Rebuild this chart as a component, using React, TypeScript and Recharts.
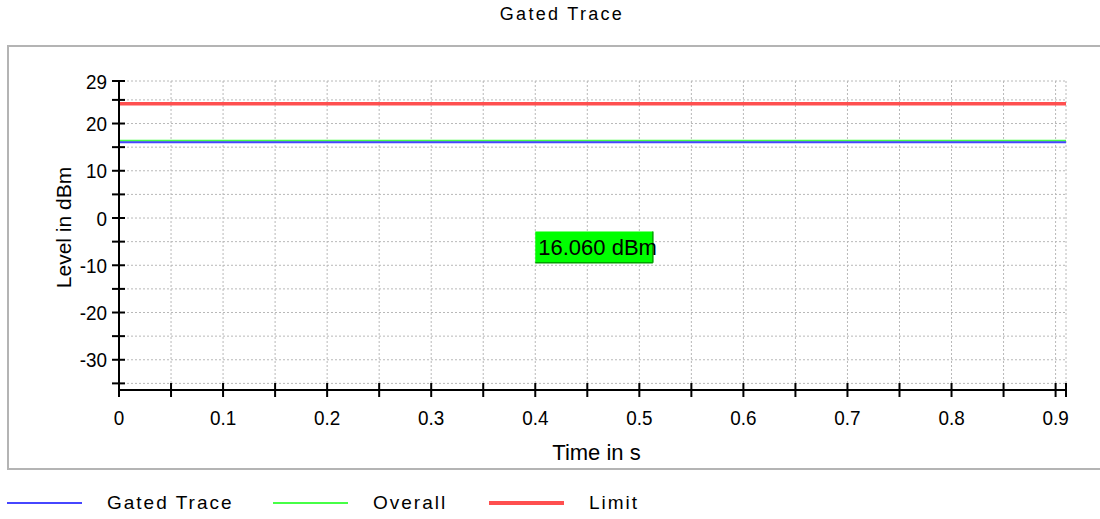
import { LineChart, Line, XAxis, YAxis, CartesianGrid, ReferenceArea } from 'recharts';

// time axis (s) and trace levels (dBm)
const times = [0, 0.91];
const gatedTrace = [16.06, 16.06];
const overall = [16.35, 16.35];
const limit = [24.2, 24.2];

const xTicks = [0, 0.05, 0.1, 0.15, 0.2, 0.25, 0.3, 0.35, 0.4, 0.45, 0.5, 0.55, 0.6, 0.65, 0.7, 0.75, 0.8, 0.85, 0.9, 0.91];
const xLabelTicks = [0, 0.1, 0.2, 0.3, 0.4, 0.5, 0.6, 0.7, 0.8, 0.9];
const yTicks = [29, 25, 20, 15, 10, 5, 0, -5, -10, -15, -20, -25, -30, -35];
const yLabelTicks = [29, 20, 10, 0, -10, -20, -30];

// marker readout box
const markerText = '16.060 dBm';
const markerTime = [0.4, 0.513];
const markerLevel = [-9.45, -2.85];

const FONT = '"Liberation Sans", Arial, sans-serif';
const BLUE = '#4646ff';
const GREEN = '#46ff46';
const RED = '#ff4f4f';

const data = times.map((t, i) => ({
  time: t,
  gated: gatedTrace[i],
  overall: overall[i],
  limit: limit[i],
}));

// tick labels in the original are tall and narrow
function TickText({ x, y, anchor, children }: any) {
  return (
    <text
      transform={`translate(${x}, ${y}) scale(0.9, 1)`}
      textAnchor={anchor}
      fontSize={21}
      fontFamily={FONT}
      fill="#000"
    >
      {children}
    </text>
  );
}

function XTick({ x, y, payload }: any) {
  const v = payload.value;
  return (
    <g>
      <line x1={x} x2={x} y1={y - 7} y2={y + 7} stroke="#000" strokeWidth={2} />
      {xLabelTicks.includes(v) && (
        <TickText x={x} y={y + 35} anchor="middle">
          {String(v)}
        </TickText>
      )}
    </g>
  );
}

function YTick({ x, y, payload }: any) {
  const v = payload.value;
  return (
    <g>
      <line x1={x - 7} x2={x + 6} y1={y} y2={y} stroke="#000" strokeWidth={2} />
      {yLabelTicks.includes(v) && (
        <TickText x={x - 12} y={y + 7.5} anchor="end">
          {String(v)}
        </TickText>
      )}
    </g>
  );
}

function MarkerBox({ x, y, width, height }: any) {
  return (
    <g>
      <rect x={x} y={y} width={width} height={height} fill="#00ff00" />
      <line x1={x + width} x2={x + width} y1={y} y2={y + height} stroke="#00a000" strokeWidth={1.5} />
      <line x1={x} x2={x + width} y1={y + height} y2={y + height} stroke="#00a000" strokeWidth={1.5} />
      <text x={x + 3} y={y + height / 2 + 8} fontSize={22} fontFamily={FONT} fill="#000">
        {markerText}
      </text>
    </g>
  );
}

const legendItems = [
  { name: 'Gated Trace', color: BLUE, width: 2, left: 7 },
  { name: 'Overall', color: GREEN, width: 2, left: 273 },
  { name: 'Limit', color: RED, width: 4, left: 489 },
];

export default function App() {
  return (
    <div
      style={{
        position: 'absolute',
        left: 0,
        top: 0,
        width: 1100,
        height: 519,
        overflow: 'hidden',
        background: '#fff',
        fontFamily: FONT,
      }}
    >
      <div
        style={{
          position: 'absolute',
          left: 0,
          top: 4,
          width: 1124,
          textAlign: 'center',
          fontSize: 18,
          lineHeight: '20px',
          letterSpacing: 2.3,
          color: '#000',
        }}
      >
        Gated Trace
      </div>
      <div
        style={{
          position: 'absolute',
          left: 7,
          top: 45,
          width: 1093,
          height: 421,
          borderTop: '2px solid #b4b4b4',
          borderLeft: '2px solid #b4b4b4',
          borderBottom: '2px solid #b4b4b4',
        }}
      />
      <div style={{ position: 'absolute', left: 0, top: 0 }}>
        <LineChart width={1100} height={519} data={data} margin={{ top: 81, right: 34, bottom: 49, left: 19 }}>
          <CartesianGrid stroke="#b8b8b8" strokeDasharray="2 2" />
          <XAxis
            dataKey="time"
            type="number"
            domain={[0, 0.91]}
            ticks={xTicks}
            interval={0}
            height={80}
            tickSize={0}
            tickMargin={0}
            tickLine={false}
            axisLine={{ stroke: '#000', strokeWidth: 2 }}
            tick={<XTick />}
            label={{
              content: ({ viewBox }: any) => (
                <text
                  x={viewBox.x + viewBox.width / 2 + 4}
                  y={viewBox.y + 70}
                  textAnchor="middle"
                  fontSize={22}
                  fontFamily={FONT}
                  fill="#000"
                >
                  Time in s
                </text>
              ),
            }}
          />
          <YAxis
            type="number"
            domain={[-36.4, 29]}
            ticks={yTicks}
            interval={0}
            width={100}
            tickSize={0}
            tickMargin={0}
            tickLine={false}
            axisLine={{ stroke: '#000', strokeWidth: 2 }}
            tick={<YTick />}
            label={{
              content: ({ viewBox }: any) => {
                const lx = viewBox.x + 52;
                const ly = viewBox.y + viewBox.height / 2 - 8;
                return (
                  <text
                    x={lx}
                    y={ly}
                    transform={`rotate(-90, ${lx}, ${ly})`}
                    textAnchor="middle"
                    fontSize={21}
                    fontFamily={FONT}
                    fill="#000"
                  >
                    Level in dBm
                  </text>
                );
              },
            }}
          />
          <ReferenceArea
            x1={markerTime[0]}
            x2={markerTime[1]}
            y1={markerLevel[0]}
            y2={markerLevel[1]}
            shape={(p: any) => <MarkerBox {...p} />}
          />
          <Line dataKey="limit" name="Limit" stroke={RED} strokeWidth={3.5} dot={false} isAnimationActive={false} />
          <Line dataKey="overall" name="Overall" stroke={GREEN} strokeWidth={2} dot={false} isAnimationActive={false} />
          <Line dataKey="gated" name="Gated Trace" stroke={BLUE} strokeWidth={2} dot={false} isAnimationActive={false} />
        </LineChart>
      </div>
      {legendItems.map((item) => (
        <div
          key={item.name}
          style={{ position: 'absolute', left: item.left, top: 492, height: 22, display: 'flex', alignItems: 'center' }}
        >
          <div style={{ width: 75, height: item.width, background: item.color }} />
          <span style={{ marginLeft: 25, fontSize: 19, letterSpacing: 2, color: '#000', lineHeight: '22px' }}>
            {item.name}
          </span>
        </div>
      ))}
    </div>
  );
}
